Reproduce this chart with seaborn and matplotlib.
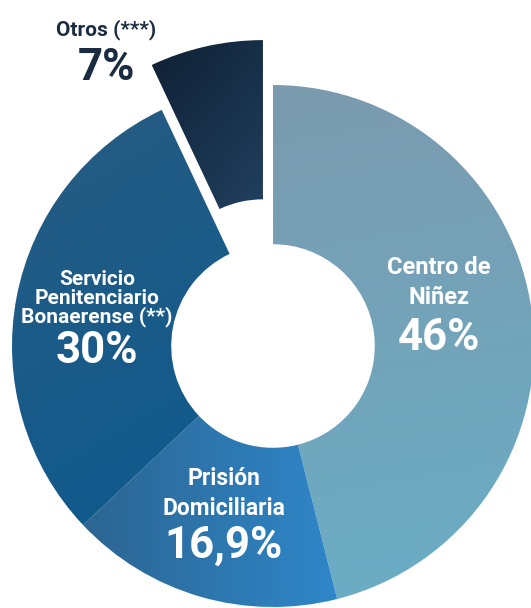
import numpy as np
import matplotlib
matplotlib.use("Agg")
import matplotlib.pyplot as plt
import seaborn as sns

# data
labels = ["Centro de\nNiñez", "Prisión\nDomiciliaria",
          "Servicio\nPenitenciario\nBonaerense (**)", "Otros (***)"]
values = [46, 16.9, 30, 7]
pct_labels = ["46%", "16,9%", "30%", "7%"]
explode = [0, 0, 0, 46]

# gradient (start, end, direction in degrees) per slice
grad_colors = [("#7b9aae", "#6aaec6", -80),
               ("#2c6592", "#2f87c9", 0),
               ("#285c82", "#0c5a8e", -60),
               ("#0f2034", "#21405f", -40)]

W, H = 531, 608
CX, CY, R = 273, H - 346, 261

sns.set_theme(style="white")
plt.rcParams["font.family"] = ["Roboto", "DejaVu Sans"]

fig = plt.figure(figsize=(W / 100, H / 100), dpi=100)
ax = fig.add_axes([0, 0, 1, 1])

wedges, _ = ax.pie(values, radius=R, center=(CX, CY), startangle=90,
                   counterclock=False, explode=explode,
                   wedgeprops=dict(width=0.61 * R, linewidth=0))

for w, (c0, c1, ang) in zip(wedges, grad_colors):
    cmap = sns.blend_palette([c0, c1], as_cmap=True)
    bb = w.get_path().get_extents()
    x0, y0, x1, y1 = bb.x0, bb.y0, bb.x1, bb.y1
    xx, yy = np.meshgrid(np.linspace(0, 1, 200), np.linspace(0, 1, 200))
    d = np.array([np.cos(np.radians(ang)), np.sin(np.radians(ang))])
    t = xx * d[0] * (x1 - x0) + yy * d[1] * (y1 - y0)
    t = (t - t.min()) / (t.max() - t.min())
    im = ax.imshow(t, extent=(x0, x1, y0, y1), origin="lower", cmap=cmap,
                   aspect="auto", zorder=1, interpolation="bilinear")
    im.set_clip_path(w)
    w.set_facecolor("none")

ax.set_xlim(0, W)
ax.set_ylim(0, H)
ax.set_aspect("equal")
ax.axis("off")

# label placement: x centre, first baseline, line step, pct baseline (px from top)
label_pos = [(439, 274, 30.5, 350, 17),
             (224, 485, 30, 558, 16.5),
             (97, 285, 18.5, 363, 15),
             (106, 35, 0, 80, 15)]
text_colors = ["white", "white", "white", "#1b2c42"]

for lab, pct, (x, yb, step, yp, fs), col in zip(labels, pct_labels,
                                                label_pos, text_colors):
    for i, line in enumerate(lab.split("\n")):
        ax.text(x, H - (yb + i * step), line, ha="center", va="baseline",
                color=col, fontsize=fs, fontweight="bold")
    ax.text(x, H - yp, pct, ha="center", va="baseline", color=col,
            fontsize=31.5, fontweight="bold")

fig.savefig("out.png", dpi=100, facecolor="white")
